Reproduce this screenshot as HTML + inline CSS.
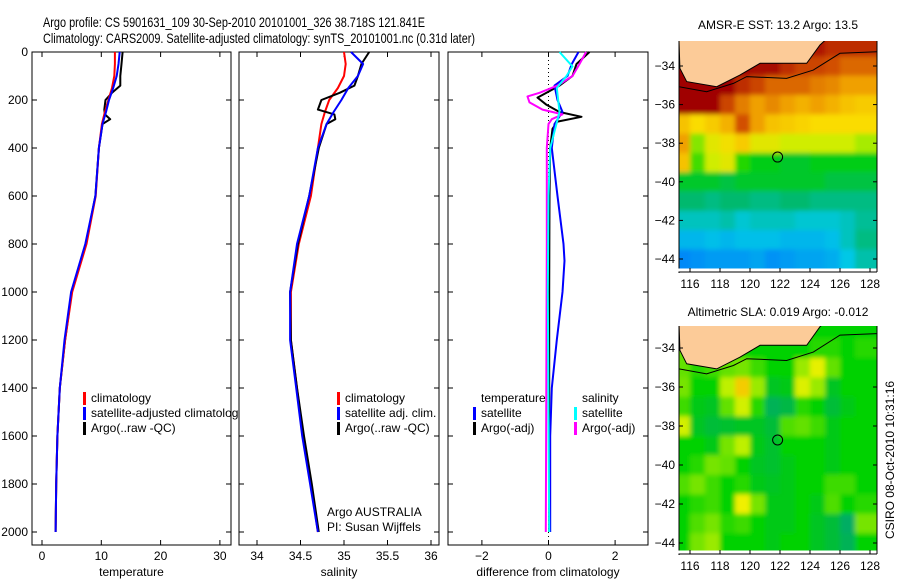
<!DOCTYPE html>
<html><head><meta charset="utf-8"><style>
body{margin:0;background:#fff;}
svg{display:block;font-family:"Liberation Sans",sans-serif;}
</style></head><body>
<svg id="fig" width="900" height="580" xmlns="http://www.w3.org/2000/svg">
<defs><filter id="blur" x="-5%" y="-5%" width="110%" height="110%"><feGaussianBlur stdDeviation="2.5"/></filter></defs>
<text x="43" y="27" font-size="14" textLength="382" lengthAdjust="spacingAndGlyphs">Argo profile: CS 5901631_109 30-Sep-2010 20101001_326 38.718S 121.841E</text>
<text x="43" y="43" font-size="14" textLength="432" lengthAdjust="spacingAndGlyphs">Climatology: CARS2009. Satellite-adjusted climatology: synTS_20101001.nc (0.31d later)</text>
<g id="g"></g>
</svg>
<script>
// ---- data ----
const depthsClim = [0,50,100,150,200,250,300,400,600,800,1000,1200,1400,1600,1800,2000];
const tempClim = [12.3,12.3,12.2,11.8,11.2,10.6,10.1,9.6,9.05,7.5,5.1,3.9,3.0,2.6,2.4,2.3];
const tempSat = [13.1,12.9,12.6,12.0,11.3,10.8,10.2,9.6,9.0,7.3,4.9,3.8,3.0,2.6,2.4,2.3];
const depthsArgoT = [0,50,100,140,170,200,240,260,280,300,400,600,800,1000,1200,1400,1600,1800,2000];
const tempArgo = [13.6,13.4,13.2,13.2,11.8,10.7,10.5,10.6,11.5,10.2,9.6,9.0,7.4,5.0,3.9,3.0,2.6,2.4,2.3];
const salClim = [35.0,35.02,35.0,34.93,34.83,34.78,34.74,34.7,34.62,34.48,34.39,34.39,34.46,34.53,34.62,34.7];
const salSat = [35.08,35.22,35.16,35.05,34.97,34.88,34.8,34.7,34.6,34.46,34.38,34.38,34.45,34.52,34.61,34.7];
const depthsArgoS = [0,50,100,140,170,200,240,260,280,300,400,600,800,1000,1200,1400,1600,1800,2000];
const salArgo = [35.29,35.2,35.16,35.12,34.95,34.74,34.7,34.89,34.9,34.8,34.71,34.6,34.47,34.38,34.39,34.46,34.54,34.63,34.71];
const dDepTS = [0,50,100,140,200,250,300,400,600,800,870,1000,1200,1400,1600,1800,2000];
const dTempSat = [0.9,0.7,0.57,0.18,0.27,0.42,0.18,0.1,0.27,0.45,0.48,0.42,0.25,0.1,0.05,0.05,0.05];
const dDepTA = [0,50,100,140,170,190,220,250,270,290,320,400,600,1000,2000];
const dTempArgo = [1.23,0.84,0.72,0.33,-0.06,-0.33,-0.06,0.33,0.99,0.27,0.12,0.05,0.03,0.02,0.02];
const dDepSS = [0,60,100,150,250,400,600,1000,2000];
const dSalSat = [0.33,0.72,0.54,0.25,0.33,0.05,0,-0.02,0.02];
const dDepSA = [0,50,100,140,170,185,210,240,260,280,300,400,800,2000];
const dSalArgo = [1.13,0.93,0.72,0.27,-0.27,-0.63,-0.57,-0.18,0.42,0.1,0,-0.05,-0.05,-0.08];
const depthTicks = [0,200,400,600,800,1000,1200,1400,1600,1800,2000];
const tempTicks = [0,10,20,30];
const salTicks = [34,34.5,35,35.5,36];
const diffTicks = [-2,0,2];
const mapLons = [115.5,116.5,117.5,118.5,119.5,120.5,121.5,122.5,123.5,124.5,125.5,126.5,127.5];
const mapLats = [-33,-34,-35,-36,-37,-38,-39,-40,-41,-42,-43,-44];
const sstGrid = [
[16.5,16.5,16.5,16.5,16.5,16.5,16.5,16.5,16.3,16.2,16.0,16.0,16.0],
[16.8,16.8,16.8,16.8,16.5,16.3,16.3,16.0,15.8,15.8,15.7,15.5,15.5],
[16.8,16.8,16.5,16.5,16.0,15.8,15.5,15.5,15.5,15.3,15.2,15.0,15.0],
[16.5,16.5,16.5,15.8,15.3,15.0,15.2,15.0,14.8,15.0,14.8,14.6,14.5],
[14.6,14.3,14.5,14.8,15.7,15.0,14.6,14.5,14.4,14.3,14.3,14.3,14.3],
[15.0,13.5,14.0,14.2,14.5,14.0,14.0,13.8,13.8,13.8,13.8,13.8,13.6],
[14.6,13.3,13.8,14.0,13.2,13.0,13.0,12.9,12.9,13.0,13.0,13.0,13.0],
[12.9,12.9,12.9,12.8,12.9,12.9,12.9,12.9,12.9,12.9,12.8,12.8,12.8],
[12.6,12.6,12.5,12.6,12.6,12.5,12.5,12.6,12.6,12.5,12.5,12.5,12.5],
[12.2,12.2,12.2,12.3,12.1,12.2,12.2,12.2,12.1,12.1,12.1,12.2,12.4],
[11.8,11.8,11.9,11.8,11.9,11.9,11.9,11.8,11.8,11.8,11.9,12.2,12.5],
[11.3,11.4,11.5,11.5,11.5,11.6,11.4,11.5,11.6,11.6,11.7,12.0,12.3]];
const slaGrid = [
[0.05,0,0,0,0,0,0,0,0,0,0,0,0],
[0.05,0.02,0.02,0.02,0,0,0,0,0,0.02,0.02,0,0.02],
[0.05,0.02,0.03,0.05,0.06,0.03,0,0,0.08,0.14,0.05,0,0],
[0.06,0,0,0.1,0.2,0.08,-0.03,-0.02,0.13,0.08,-0.03,0,0],
[0.03,-0.02,-0.03,0.05,0.12,0.02,-0.08,-0.06,0.02,0,-0.05,-0.02,0],
[0.12,-0.03,-0.05,-0.04,-0.03,-0.03,-0.05,0.04,0.05,0.03,-0.02,0,0],
[0,0,-0.02,0.06,0.1,-0.02,-0.04,0,0,0,-0.02,0,0],
[0,0.02,0.06,0.05,0,-0.03,-0.04,-0.02,0,0,-0.02,0,0],
[0.04,0.06,0.03,0,0.02,-0.02,-0.03,-0.02,0,0,0.03,0.03,0],
[0,0.02,0.03,0,0.15,0.06,-0.02,-0.02,0,-0.02,0.04,0,0.02],
[0,0.04,0.06,0.02,0.03,0,-0.02,-0.02,0,-0.03,-0.05,-0.1,0.06],
[0,0.06,0.08,0,0,0,-0.02,0,0,-0.03,-0.05,-0.08,0]];
const coastLon = [115.27,115.33,115.78,117.78,119.33,120.67,123.78,124.67,125.1];
const coastLat = [-32.7,-34.12,-34.81,-35.07,-34.47,-33.86,-33.86,-32.91,-32.6];
const shelfLon = [115.27,117.11,118.89,119.78,122.44,124.22,126,128.47];
const shelfLat = [-35.07,-35.33,-34.9,-34.55,-34.64,-34.21,-33.34,-33.26];
const argoLon = 121.841, argoLat = -38.718;
const mapLonTicks = [116,118,120,122,124,126,128];
const mapLatTicks = [-34,-36,-38,-40,-42,-44];

// ---- helpers ----
const NS = "http://www.w3.org/2000/svg";
const G = document.getElementById('g');
function mk(tag, attrs, parent){const e=document.createElementNS(NS,tag);for(const k in attrs)e.setAttribute(k,attrs[k]);(parent||G).appendChild(e);return e;}
function txt(x,y,s,size,anchor,parent){const t=mk('text',{x:x,y:y,'font-size':size||12,'text-anchor':anchor||'start'},parent);t.textContent=s;return t;}
const yD = d => 52 + d*0.24;
function panel(name,x0,x1,xScale,ticks,fmt,label){
  const r=mk('rect',{x:x0,y:52,width:x1-x0,height:493,fill:'#fff',stroke:'#000','stroke-width':1});
  
  
  ticks.forEach(v=>{const x=xScale(v);
    mk('line',{x1:x,x2:x,y1:52,y2:57,stroke:'#000'});mk('line',{x1:x,x2:x,y1:545,y2:540,stroke:'#000'});
    const t=txt(x,560,fmt(v),12,'middle');
    
    });
  depthTicks.forEach(d=>{const y=yD(d);
    mk('line',{x1:x0,x2:x0+5,y1:y,y2:y,stroke:'#000'});mk('line',{x1:x1,x2:x1-5,y1:y,y2:y,stroke:'#000'});});
  const l=txt((x0+x1)/2,576,label,12,'middle');
  
  
}
function series(name,depths,vals,xScale,color,w){
  const pts=vals.map((v,i)=>xScale(v).toFixed(1)+','+yD(depths[i]).toFixed(1)).join(' ');
  const p=mk('polyline',{points:pts,fill:'none',stroke:color,'stroke-width':w||2,'stroke-linejoin':'round'});
  
  
}
function legend(x,y,color,label,name){
  const r=mk('rect',{x:x,y:y-10,width:3,height:13,fill:color});
  
  
  const t=txt(x+8,y,label,12);
  
  
}
// ---- panel 1 temperature ----
const xT = v => 42 + v*5.93;
panel('temperature-panel',32,231,xT,tempTicks,v=>String(v),'temperature');
depthTicks.forEach(d=>{const t=txt(28,yD(d)+4,String(d),12,'end');
  
  });
series('temp-argo-line',depthsArgoT,tempArgo,xT,'#000');
series('temp-climatology-line',depthsClim,tempClim,xT,'#f00');
series('temp-satellite-line',depthsClim,tempSat,xT,'#00f');
legend(83,402,'#f00','climatology','legend-temp-climatology');
legend(83,417,'#00f','satellite-adjusted climatology','legend-temp-satellite');
legend(83,432,'#000','Argo(..raw -QC)','legend-temp-argo');
// ---- panel 2 salinity ----
const xS = v => 257 + (v-34)*87;
panel('salinity-panel',239,439,xS,salTicks,v=>String(v),'salinity');
series('sal-climatology-line',depthsClim,salClim,xS,'#f00');
series('sal-argo-line',depthsArgoS,salArgo,xS,'#000');
series('sal-satellite-line',depthsClim,salSat,xS,'#00f');
legend(337,402,'#f00','climatology','legend-sal-climatology');
legend(337,417,'#00f','satellite adj. clim.','legend-sal-satellite');
legend(337,432,'#000','Argo(..raw -QC)','legend-sal-argo');
let t1=txt(327,516,'Argo AUSTRALIA',12);
let t2=txt(327,531,'PI: Susan Wijffels',12);
// ---- panel 3 difference ----
const xDf = v => 548.5 + v*33.3;
panel('difference-panel',448,648,xDf,diffTicks,v=>v<0?'\u2212'+(-v):String(v),'difference from climatology');
const zl=mk('line',{x1:xDf(0),x2:xDf(0),y1:52,y2:545,stroke:'#000','stroke-dasharray':'1,3'});

series('diff-temp-argo-line',dDepTA,dTempArgo,xDf,'#000');
series('diff-temp-satellite-line',dDepTS,dTempSat,xDf,'#00f');
series('diff-sal-argo-line',dDepSA,dSalArgo,xDf,'#f0f');
series('diff-sal-satellite-line',dDepSS,dSalSat,xDf,'#0ff');
let t3=txt(481,402,'temperature',12);
let t4=txt(582,402,'salinity',12);
legend(473,417,'#00f','satellite','legend-diff-temp-satellite');
legend(473,432,'#000','Argo(-adj)','legend-diff-temp-argo');
legend(574,417,'#0ff','satellite','legend-diff-sal-satellite');
legend(574,432,'#f0f','Argo(-adj)','legend-diff-sal-argo');

// ---- maps ----
function ramp(stops,v){
  if(v<=stops[0][0])return 'rgb('+stops[0][1].join(',')+')';
  for(let i=1;i<stops.length;i++){if(v<=stops[i][0]){const a=stops[i-1],b=stops[i],f=(v-a[0])/(b[0]-a[0]);
    return 'rgb('+a[1].map((c,k)=>Math.round(c+(b[1][k]-c)*f)).join(',')+')';}}
  return 'rgb('+stops[stops.length-1][1].join(',')+')';
}
const sstStops=[[11,[0,110,255]],[12,[0,200,230]],[12.6,[0,185,110]],[13.1,[0,210,0]],[13.7,[200,240,0]],[14.3,[250,220,0]],[15,[240,160,0]],[15.7,[210,80,0]],[16.4,[160,0,0]]];
const slaStops=[[-0.15,[0,160,130]],[-0.07,[0,180,80]],[0,[0,210,0]],[0.05,[100,225,0]],[0.1,[190,240,0]],[0.15,[240,240,0]],[0.22,[245,190,0]]];
function drawMap(name,top,bottom,latY,grid,stops,title,titleY){
  const x0=679,x1=877, lonX=l=>690+(l-116)*15;
  const clip=mk('clipPath',{id:name+'-clip'});mk('rect',{x:x0,y:top,width:x1-x0,height:bottom-top},clip);
  const outer=mk('g',{'clip-path':'url(#'+name+'-clip)'});
  const g=mk('g',{filter:'url(#blur)'},outer);
  
  
  grid.forEach((row,i)=>row.forEach((v,j)=>{
    const xa=(j==0?x0-20:lonX(mapLons[j]-0.5)), xb=(j==row.length-1?x1+20:lonX(mapLons[j]+0.5));
    const ya=(i==0?top-20:latY(mapLats[i]+0.5)), yb=(i==grid.length-1?bottom+20:latY(mapLats[i]-0.5));
    const c=mk('rect',{x:xa.toFixed(1),y:ya.toFixed(1),width:(xb-xa+0.5).toFixed(1),height:(yb-ya+0.5).toFixed(1),fill:ramp(stops,v)},g);
    
    
  }));
  const land=coastLon.map((l,i)=>lonX(l).toFixed(1)+','+latY(coastLat[i]).toFixed(1));
  land.push(lonX(125.1)+','+(top-5),lonX(115)+','+(top-5));
  const lp=mk('polygon',{points:land.join(' '),fill:'#fccb98',stroke:'#000','stroke-width':1},outer);
  
  
  const sp=mk('polyline',{points:shelfLon.map((l,i)=>lonX(l).toFixed(1)+','+latY(shelfLat[i]).toFixed(1)).join(' '),fill:'none',stroke:'#000','stroke-width':1},outer);
  
  
  const pc=mk('circle',{cx:lonX(argoLon),cy:latY(argoLat),r:5,fill:'none',stroke:'#000','stroke-width':1},outer);
  
  
  mk('line',{x1:x0,x2:x0,y1:top,y2:bottom+3,stroke:'#000'});
  mk('line',{x1:x0-3,x2:x1,y1:bottom,y2:bottom,stroke:'#fff','stroke-width':3});
  mk('line',{x1:x0,x2:x1,y1:bottom+2,y2:bottom+2,stroke:'#000'});
  mk('line',{x1:x1,x2:x1,y1:top,y2:bottom+2,stroke:'#000'});
  mapLonTicks.forEach(l=>{const x=lonX(l);mk('line',{x1:x,x2:x,y1:bottom+2,y2:bottom-2,stroke:'#000'});
    const t=txt(x,bottom+18,String(l),12,'middle');
    
    });
  mapLatTicks.forEach(l=>{const y=latY(l);mk('line',{x1:x0,x2:x0+4,y1:y,y2:y,stroke:'#000'});mk('line',{x1:x1,x2:x1-4,y1:y,y2:y,stroke:'#000'});
    const t=txt(x0-4,y+4,'\u2212'+(-l),12,'end');
    
    });
  const tt=txt(778,titleY,title,12,'middle');
  
  
}
drawMap('sst-map',41,270,lat=>66+(-34-lat)*19.3,sstGrid,sstStops,'AMSR-E SST: 13.2 Argo: 13.5',29);
drawMap('sla-map',326,552,lat=>348+(-34-lat)*19.5,slaGrid,slaStops,'Altimetric SLA: 0.019 Argo: -0.012',316);
const cs=txt(0,0,'CSIRO 08-Oct-2010 10:31:16',12,'middle');
cs.setAttribute('transform','translate(894,460) rotate(-90)');


</script>
</body></html>
